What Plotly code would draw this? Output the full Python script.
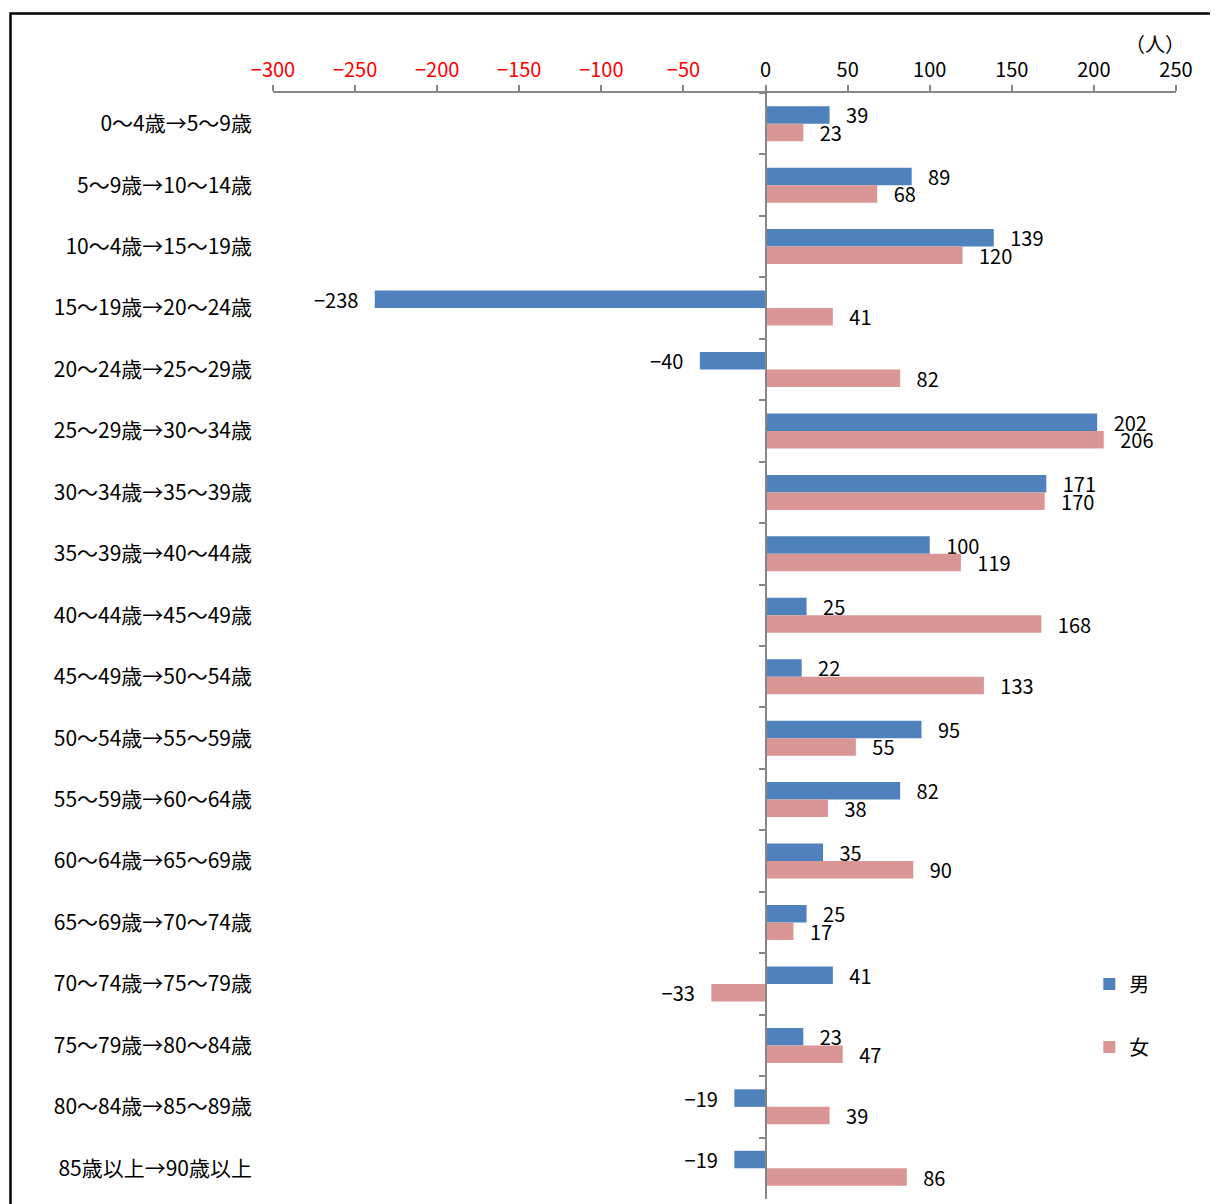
import plotly.graph_objects as go

# 年齢階級の移動（コーホート）
kategorie = [
    "0～4歳→5～9歳", "5～9歳→10～14歳", "10～4歳→15～19歳", "15～19歳→20～24歳",
    "20～24歳→25～29歳", "25～29歳→30～34歳", "30～34歳→35～39歳", "35～39歳→40～44歳",
    "40～44歳→45～49歳", "45～49歳→50～54歳", "50～54歳→55～59歳", "55～59歳→60～64歳",
    "60～64歳→65～69歳", "65～69歳→70～74歳", "70～74歳→75～79歳", "75～79歳→80～84歳",
    "80～84歳→85～89歳", "85歳以上→90歳以上",
]
mezczyzni = [39, 89, 139, -238, -40, 202, 171, 100, 25, 22, 95, 82, 35, 25, 41, 23, -19, -19]
kobiety = [23, 68, 120, 41, 82, 206, 170, 119, 168, 133, 55, 38, 90, 17, -33, 47, 39, 86]
wartosci_osi = [-300, -250, -200, -150, -100, -50, 0, 50, 100, 150, 200, 250]

NIEBIESKI = "#4F81BD"
ROZOWY = "#D99694"
SZARY = "#868686"
CZCIONKA = "Noto Sans CJK JP"
PAD = "\u00a0\u00a0\u00a0"


def etykiety(wartosci):
    # minus typograficzny i odstep od konca slupka
    out = []
    for v in wartosci:
        if v < 0:
            out.append("\u2212" + str(abs(v)) + PAD)
        else:
            out.append(PAD + str(v))
    return out


def etykiety_osi(wartosci):
    out = []
    for v in wartosci:
        if v < 0:
            out.append("<span style='color:#FF0000'>\u2212" + str(abs(v)) + "</span>")
        else:
            out.append(str(v))
    return out


fig = go.Figure()
fig.add_trace(go.Bar(y=kategorie, x=mezczyzni, orientation="h", name="男",
                     marker=dict(color=NIEBIESKI, line=dict(width=0)),
                     text=etykiety(mezczyzni), textposition="outside",
                     textfont=dict(size=20, color="black", family=CZCIONKA),
                     cliponaxis=False, constraintext="none", legendgroup="m"))
fig.add_trace(go.Bar(y=kategorie, x=kobiety, orientation="h", name="女",
                     marker=dict(color=ROZOWY, line=dict(width=0)),
                     text=etykiety(kobiety), textposition="outside",
                     textfont=dict(size=20, color="black", family=CZCIONKA),
                     cliponaxis=False, constraintext="none", legendgroup="f"))
# niewidoczny slad, zeby os w punkcie 0 miala kategorie
fig.add_trace(go.Scatter(y=kategorie, x=[0] * len(kategorie), yaxis="y2", mode="markers",
                         marker=dict(opacity=0), showlegend=False, hoverinfo="skip"))

n = len(kategorie)
fig.update_layout(
    width=1210, height=1196,
    margin=dict(l=265, r=42, t=85, b=5, autoexpand=False),
    paper_bgcolor="white", plot_bgcolor="white",
    font=dict(family=CZCIONKA, size=20, color="black"),
    barmode="group", bargap=0.43, bargroupgap=0,
    xaxis=dict(side="top", range=[-300, 250], tickvals=wartosci_osi,
               ticktext=etykiety_osi(wartosci_osi), showgrid=False, zeroline=False,
               showline=True, linecolor=SZARY, linewidth=1.5, ticks="outside",
               ticklen=6, tickcolor=SZARY, tickwidth=1.5, automargin=False),
    yaxis=dict(type="category", categoryorder="array", categoryarray=kategorie,
               range=[n - 0.5, -0.5], showgrid=False, zeroline=False, showline=False,
               ticks="", ticklabelstandoff=20, tickfont=dict(size=21), automargin=False),
    yaxis2=dict(type="category", categoryorder="array", categoryarray=kategorie,
                range=[n - 0.5, -0.5], overlaying="y", anchor="free",
                position=300 / 550, side="left", showticklabels=False,
                showgrid=False, zeroline=False, showline=True, linecolor=SZARY,
                linewidth=1.5, ticks="outside", tickson="boundaries", ticklen=6,
                tickcolor=SZARY, tickwidth=1.5),
    legend=dict(x=0.904, y=0.212, xanchor="left", yanchor="top",
                traceorder="grouped", tracegroupgap=34,
                font=dict(size=20), bgcolor="rgba(0,0,0,0)"),
    annotations=[dict(text="（人）", xref="paper", yref="paper", x=0.977, y=1.045,
                      xanchor="center", yanchor="middle", showarrow=False,
                      font=dict(size=20))],
    shapes=[dict(type="rect", xref="paper", yref="paper", x0=-0.2907, x1=1.2,
                 y0=-0.2, y1=1.0719, line=dict(color="black", width=2.5))],
)

fig.write_html("out.html")
